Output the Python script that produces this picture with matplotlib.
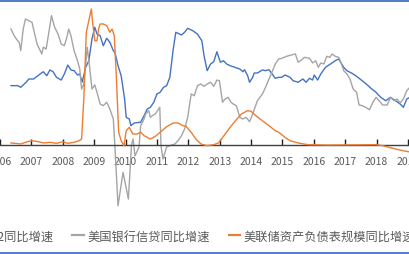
import matplotlib
matplotlib.use("Agg")
import matplotlib.pyplot as plt
from matplotlib.patches import Rectangle

plt.rcParams['font.family'] = ['Noto Sans CJK SC', 'DejaVu Sans']

# ---- data (year fraction, % yoy) ----
m2_x = [2006.35, 2006.56, 2006.66, 2006.81, 2006.92, 2007.07, 2007.28, 2007.38, 2007.49, 2007.59,
        2007.69, 2007.80, 2007.95, 2008.05, 2008.16, 2008.26, 2008.36, 2008.47, 2008.54, 2008.62,
        2008.73, 2008.83, 2008.93, 2009.02, 2009.09, 2009.19, 2009.29, 2009.40, 2009.50, 2009.61,
        2009.66, 2009.76, 2009.86, 2009.97, 2010.02, 2010.12, 2010.17, 2010.28, 2010.48, 2010.59,
        2010.69, 2010.79, 2010.90, 2011.00, 2011.10, 2011.21, 2011.31, 2011.41, 2011.52, 2011.60,
        2011.78, 2011.88, 2011.98, 2012.14, 2012.29, 2012.43, 2012.50, 2012.60, 2012.71, 2012.81,
        2012.91, 2013.02, 2013.12, 2013.22, 2013.33, 2013.48, 2013.64, 2013.74, 2013.79, 2013.89,
        2013.95, 2014.05, 2014.10, 2014.20, 2014.36, 2014.46, 2014.57, 2014.67, 2014.77, 2014.88,
        2014.98, 2015.08, 2015.24, 2015.34, 2015.50, 2015.65, 2015.75, 2015.86, 2015.96, 2016.01,
        2016.12, 2016.22, 2016.37, 2016.53, 2016.68, 2016.79, 2016.84, 2016.95, 2017.05, 2017.20,
        2017.36, 2017.51, 2017.67, 2017.82, 2017.98, 2018.13, 2018.29, 2018.44, 2018.60, 2018.75,
        2018.85, 2018.96, 2019.06]
m2_y = [5.03, 5.03, 4.89, 5.26, 5.60, 5.60, 6.03, 6.22, 5.88, 6.37,
        6.22, 5.74, 5.51, 6.03, 6.79, 6.37, 6.31, 5.94, 6.03, 5.34,
        6.60, 7.16, 9.02, 10.02, 9.44, 9.30, 8.44, 9.08, 8.74, 8.02,
        7.88, 6.74, 5.88, 3.89, 2.32, 2.18, 1.61, 1.84, 1.90, 2.46,
        3.03, 3.18, 3.61, 4.32, 4.46, 4.89, 5.03, 5.74, 8.16, 9.59,
        9.36, 9.59, 9.93, 9.73, 9.44, 8.87, 7.59, 6.31, 6.88, 7.08,
        7.93, 7.03, 7.16, 6.88, 6.74, 6.60, 6.45, 6.22, 6.39, 5.88,
        5.32, 5.74, 6.11, 6.11, 6.37, 6.31, 6.39, 6.03, 5.66, 5.74,
        5.74, 5.94, 5.74, 5.45, 5.32, 5.60, 5.32, 5.66, 5.51, 5.94,
        5.51, 6.03, 6.60, 6.88, 7.16, 7.31, 7.08, 6.60, 6.31, 6.11,
        5.83, 5.51, 5.17, 4.80, 4.46, 4.03, 3.74, 4.03, 3.74, 3.46,
        3.18, 3.89, 4.03]

credit_x = [2006.35, 2006.45, 2006.56, 2006.61, 2006.66, 2006.74, 2006.81, 2006.92, 2007.02, 2007.12,
            2007.18, 2007.28, 2007.33, 2007.38, 2007.47, 2007.54, 2007.64, 2007.74, 2007.85, 2007.95,
            2008.05, 2008.13, 2008.19, 2008.26, 2008.36, 2008.47, 2008.54, 2008.60, 2008.67, 2008.78,
            2008.85, 2008.93, 2009.02, 2009.09, 2009.19, 2009.29, 2009.40, 2009.50, 2009.61, 2009.66,
            2009.76, 2009.92, 2010.09, 2010.19, 2010.24, 2010.30, 2010.43, 2010.48, 2010.59, 2010.64,
            2010.74, 2010.79, 2010.85, 2010.95, 2011.09, 2011.13, 2011.19, 2011.31, 2011.41, 2011.57,
            2011.67, 2011.78, 2011.88, 2011.98, 2012.09, 2012.19, 2012.29, 2012.40, 2012.50, 2012.60,
            2012.71, 2012.81, 2012.91, 2012.99, 2013.09, 2013.17, 2013.27, 2013.36, 2013.43, 2013.53,
            2013.64, 2013.74, 2013.84, 2013.95, 2014.05, 2014.20, 2014.36, 2014.46, 2014.57, 2014.67,
            2014.77, 2014.88, 2014.98, 2015.13, 2015.29, 2015.41, 2015.50, 2015.60, 2015.70, 2015.86,
            2015.96, 2016.06, 2016.14, 2016.22, 2016.32, 2016.41, 2016.51, 2016.58, 2016.68, 2016.79,
            2016.84, 2016.95, 2017.05, 2017.15, 2017.25, 2017.36, 2017.44, 2017.54, 2017.65, 2017.77,
            2017.88, 2017.98, 2018.08, 2018.19, 2018.34, 2018.44, 2018.55, 2018.65, 2018.75, 2018.85,
            2018.96, 2019.06]
credit_y = [9.87, 9.30, 8.87, 8.74, 8.02, 9.87, 10.73, 10.58, 10.44, 9.30,
            8.59, 8.02, 7.74, 8.31, 8.16, 9.30, 11.01, 10.02, 9.44, 8.59,
            8.44, 9.16, 9.87, 9.30, 8.02, 7.16, 6.45, 4.74, 5.17, 8.31,
            6.74, 4.74, 5.09, 4.46, 3.46, 3.32, 3.61, 3.03, 2.18, -0.10,
            -5.23, -2.38, -4.66, -0.04, 0.47, -0.98, -0.21, 1.58, 2.18, 2.61,
            2.89, 2.32, 2.46, 2.61, 3.18, -0.10, -1.24, -0.21, -0.10, 0.04,
            0.32, 0.75, 1.32, 2.32, 4.32, 4.17, 5.03, 5.17, 4.97, 5.17,
            5.32, 4.97, 5.51, 5.45, 3.61, 3.89, 4.03, 3.61, 3.46, 3.32,
            2.32, 2.18, 2.32, 1.95, 2.61, 3.74, 4.32, 4.89, 5.60, 6.22,
            6.88, 7.31, 7.37, 7.54, 7.65, 7.74, 7.03, 7.22, 7.45, 7.37,
            6.97, 7.16, 6.60, 6.97, 6.88, 7.54, 7.45, 7.74, 7.54, 7.45,
            7.16, 6.31, 6.03, 5.60, 4.74, 4.46, 3.38, 3.32, 3.18, 2.97,
            3.61, 4.03, 3.74, 3.38, 3.38, 4.03, 3.74, 3.89, 3.55, 3.89,
            4.60, 4.89]

fed_x = [2006.35, 2006.66, 2006.87, 2007.02, 2007.23, 2007.38, 2007.59, 2007.80, 2008.00, 2008.16,
         2008.36, 2008.52, 2008.60, 2008.67, 2008.75, 2008.83, 2008.91, 2008.95, 2009.02, 2009.09,
         2009.14, 2009.19, 2009.29, 2009.40, 2009.50, 2009.57, 2009.64, 2009.71, 2009.78, 2009.86,
         2009.95, 2010.02, 2010.12, 2010.23, 2010.38, 2010.48, 2010.59, 2010.69, 2010.79, 2010.95,
         2011.10, 2011.31, 2011.52, 2011.67, 2011.83, 2011.93, 2012.09, 2012.24, 2012.40, 2012.60,
         2012.81, 2012.96, 2013.12, 2013.33, 2013.53, 2013.69, 2013.89, 2014.00, 2014.15, 2014.36,
         2014.57, 2014.77, 2014.88, 2015.08, 2015.24, 2015.50, 2015.81, 2016.43, 2017.98, 2018.19,
         2018.39, 2018.60, 2018.81, 2019.06]
fed_y = [1.7, 0.6, 3.1, 4.2, 3.1, 1.7, 2.4, 1.3, 3.1, 1.3,
         2.4, 4.2, 6.1, 50.6, 124.7, 137.6, 150.6, 135.8, 115.3, 115.3,
         128.3, 133.9, 133.9, 132.0, 124.7, 128.3, 120.9, 72.8, 13.6, 4.2,
         -1.3, 15.3, 19.1, 11.7, 11.7, 13.6, 9.8, 8.0, 6.1, 9.1,
         13.6, 19.8, 23.9, 23.9, 20.9, 20.2, 13.6, 6.1, 0.6, -1.3,
         -0.2, 1.7, 9.1, 19.1, 27.6, 33.9, 37.6, 36.9, 32.0, 26.4,
         20.9, 15.3, 13.6, 8.0, 4.2, 1.7, -0.2, -0.6, -0.2, -1.3,
         -3.1, -5.0, -6.7, -8.3]

years = list(range(2006, 2020))
year_labels = [str(y) for y in years]
labels = ['美国M2同比增速', '美国银行信贷同比增速', '美联储资产负债表规模同比增速']
colors = ['#4472C4', '#A5A5A5', '#ED7D31']

W, H = 410, 255
fig = plt.figure(figsize=(W / 100, H / 100), dpi=100)
ax = fig.add_axes([0, 0, 1, 1])
ax.patch.set_alpha(0)

# pixel mapping: year 2007 -> x=21px, 32.25 px/year; zero -> y=145.5px
x0 = 2007 - 21 / 32.25
ax.set_xlim(x0, x0 + W / 32.25)
k1 = 11.7
ax.set_ylim((145.5 - H) / k1, 145.5 / k1)

l1, = ax.plot(m2_x, m2_y, color=colors[0], lw=1.0, label=labels[0])
l2, = ax.plot(credit_x, credit_y, color=colors[1], lw=1.0, label=labels[1])

for s in ['top', 'left', 'right']:
    ax.spines[s].set_visible(False)
ax.spines['bottom'].set_position(('data', 0))
ax.spines['bottom'].set_color('#404040')
ax.spines['bottom'].set_linewidth(1.0)
ax.set_yticks([])
ax.set_xticks(years)
ax.set_xticklabels(year_labels)
ax.tick_params(axis='x', direction='in', length=4, width=1, color='#202020',
               labelsize=7.5, labelcolor='#595959', pad=8)

ax2 = ax.twinx()
ax2.set_position([0, 0, 1, 1])
k2 = 0.9
ax2.set_ylim((145.5 - H) / k2, 145.5 / k2)
ax2.set_xlim(ax.get_xlim())
l3, = ax2.plot(fed_x, fed_y, color=colors[2], lw=1.0, label=labels[2])
ax2.set_yticks([])
for s in ax2.spines.values():
    s.set_visible(False)

leg = ax2.legend(handles=[l1, l2, l3], ncol=3, loc='center left',
                 bbox_to_anchor=(-52 / W, 1 - 237 / H), frameon=False,
                 fontsize=8.8, handlelength=0.95, handletextpad=0.28,
                 columnspacing=1.55, borderpad=0, borderaxespad=0)
for t in leg.get_texts():
    t.set_color('#595959')
for h in leg.legend_handles:
    h.set_linewidth(1.6)

# chart frame (blue border top and bottom)
fig.add_artist(Rectangle((-0.05, 1 / H), 1.1, 1 - 2.8 / H, transform=fig.transFigure,
                         fill=False, edgecolor='#4472C4', lw=1.3))

fig.savefig('out.png', dpi=100)
